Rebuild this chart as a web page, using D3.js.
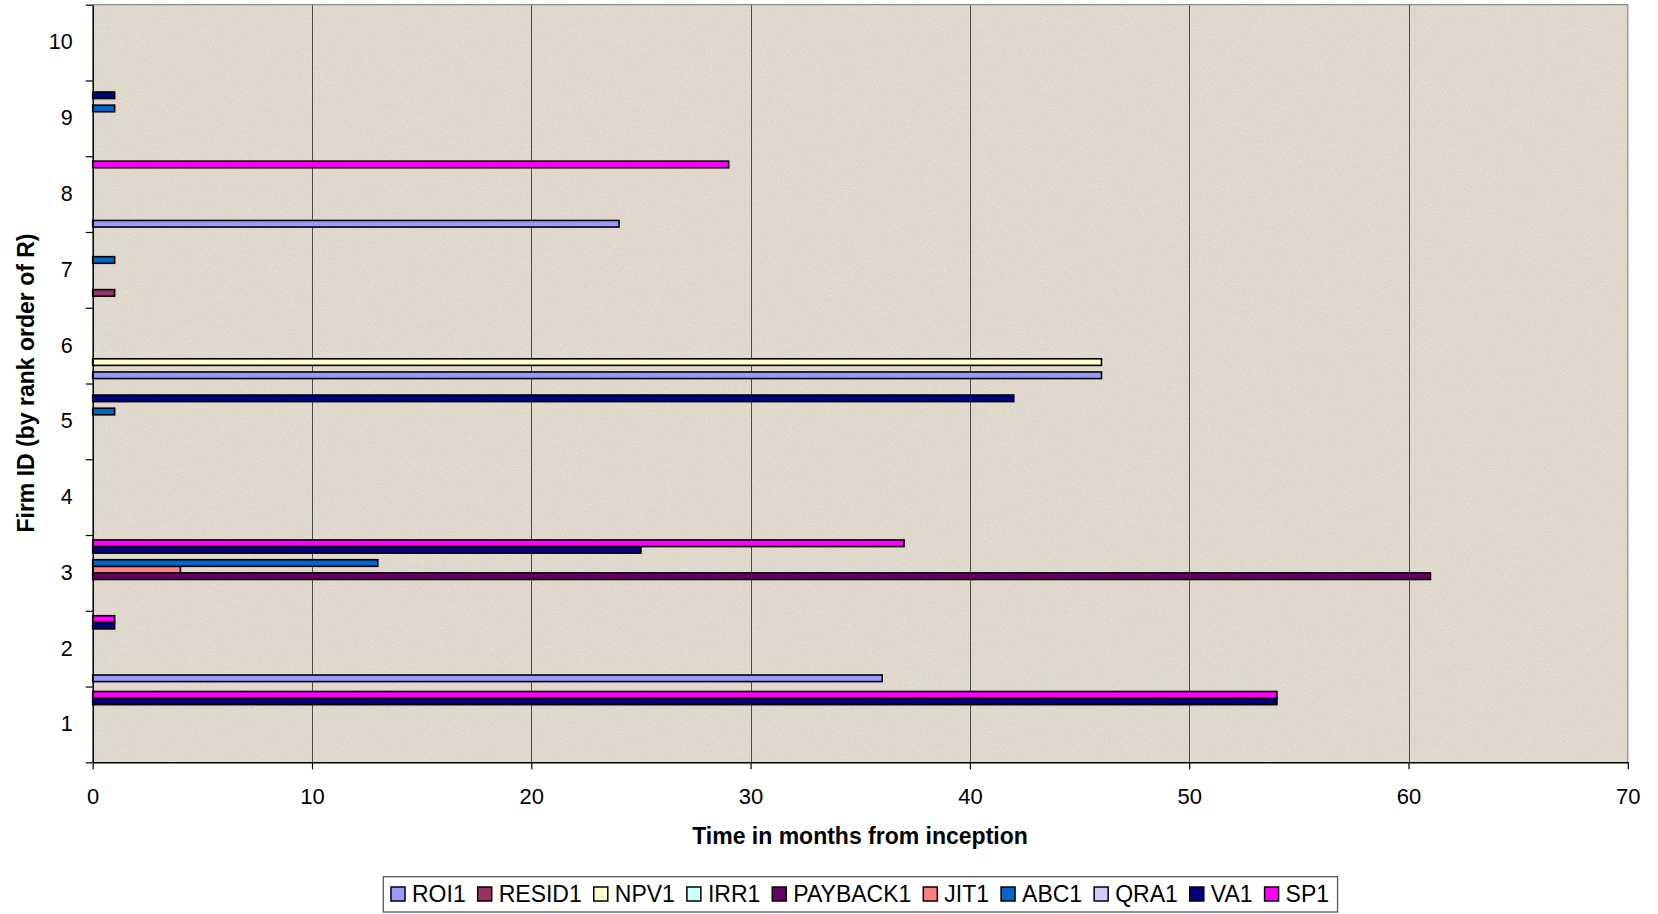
<!DOCTYPE html>
<html>
<head>
<meta charset="utf-8">
<script src="https://cdn.jsdelivr.net/npm/d3@7"></script>
<style>
  html, body { margin: 0; padding: 0; background: #ffffff; }
  svg { display: block; font-family: "Liberation Sans", Arial, sans-serif; }
</style>
</head>
<body>
<svg id="chart" width="1658" height="914"></svg>
<script>
// ---------- data ----------
const categories = ["1", "2", "3", "4", "5", "6", "7", "8", "9", "10"];
const seriesNames = ["ROI1", "RESID1", "NPV1", "IRR1", "PAYBACK1", "JIT1", "ABC1", "QRA1", "VA1", "SP1"];
const seriesColors = ["#9999FF", "#993366", "#FFFFCC", "#CCFFFF", "#660066", "#FF8080", "#0066CC", "#CCCCFF", "#000080", "#FF00FF"];

const ROI1     = [null, 36, null, null, null, 46, null, 24, null, null];
const RESID1   = [null, null, null, null, null, null, 1, null, null, null];
const NPV1     = [null, null, null, null, null, 46, null, null, null, null];
const IRR1     = [null, null, null, null, null, null, null, null, null, null];
const PAYBACK1 = [null, null, 61, null, null, null, null, null, null, null];
const JIT1     = [null, null, 4, null, null, null, null, null, null, null];
const ABC1     = [null, null, 13, null, 1, null, 1, null, 1, null];
const QRA1     = [null, null, null, null, null, null, null, null, null, null];
const VA1      = [54, 1, 25, null, 42, null, null, null, 1, null];
const SP1      = [54, 1, 37, null, null, null, null, 29, null, null];

const xTicks = [0, 10, 20, 30, 40, 50, 60, 70];
const xTitle = "Time in months from inception";
const yTitle = "Firm ID (by rank order of R)";

const seriesValues = [ROI1, RESID1, NPV1, IRR1, PAYBACK1, JIT1, ABC1, QRA1, VA1, SP1];

// ---------- layout ----------
const plot = { left: 92.7, top: 4.7, right: 1627.8, bottom: 762.3 };
const svg = d3.select("#chart");

const x = d3.scaleLinear().domain([0, 70]).range([plot.left, plot.right]);
const y = d3.scaleBand().domain(categories).range([plot.bottom, plot.top]).paddingInner(0).paddingOuter(0);
const yInner = d3.scaleBand().domain(seriesNames.slice().reverse()).range([0, y.bandwidth()])
  .paddingInner(0).paddingOuter(0.75);
const yLin = d3.scaleLinear().domain([0, categories.length]).range([plot.bottom, plot.top]);

// ---------- background texture ----------
const defs = svg.append("defs");
const f = defs.append("filter").attr("id", "paper")
  .attr("x", 0).attr("y", 0).attr("width", "100%").attr("height", "100%");
f.append("feTurbulence").attr("type", "fractalNoise").attr("baseFrequency", 0.7)
  .attr("numOctaves", 2).attr("seed", 7).attr("result", "noise");
f.append("feColorMatrix").attr("in", "noise").attr("type", "matrix")
  .attr("values", "0 0 0 0 0.60  0 0 0 0 0.52  0 0 0 0 0.45  3.2 0 0 0 -1.9")
  .attr("result", "dark");
f.append("feColorMatrix").attr("in", "noise").attr("type", "matrix")
  .attr("values", "0 0 0 0 0.97  0 0 0 0 0.95  0 0 0 0 0.92  -3.2 0 0 0 1.3")
  .attr("result", "light");
f.append("feMerge").call(m => {
  m.append("feMergeNode").attr("in", "light");
  m.append("feMergeNode").attr("in", "dark");
});

svg.append("rect")
  .attr("x", plot.left).attr("y", plot.top)
  .attr("width", plot.right - plot.left).attr("height", plot.bottom - plot.top)
  .attr("fill", "#E0D8CC");
svg.append("rect")
  .attr("x", plot.left).attr("y", plot.top)
  .attr("width", plot.right - plot.left).attr("height", plot.bottom - plot.top)
  .attr("fill", "#E0D8CC").attr("filter", "url(#paper)").attr("opacity", 0.5);

// ---------- gridlines ----------
svg.append("g").selectAll("line")
  .data(xTicks.filter(d => d > 0 && d < 70))
  .join("line")
  .attr("x1", d => Math.round(x(d)) + 0.5).attr("x2", d => Math.round(x(d)) + 0.5)
  .attr("y1", plot.top).attr("y2", plot.bottom)
  .attr("stroke", "#4a4a4a").attr("stroke-width", 1);

// plot border (top & right grey)
svg.append("path")
  .attr("d", `M${plot.left},${plot.top}H${plot.right}V${plot.bottom}`)
  .attr("fill", "none").attr("stroke", "#8a8a8a").attr("stroke-width", 1.2);

// ---------- bars ----------
const barData = [];
seriesNames.forEach((s, si) => {
  seriesValues[si].forEach((v, ci) => {
    if (v !== null && v !== undefined) barData.push({ s, si, cat: categories[ci], v });
  });
});
svg.append("g").selectAll("rect")
  .data(barData)
  .join("rect")
  .attr("x", x(0))
  .attr("y", d => y(d.cat) + yInner(d.s))
  .attr("width", d => x(d.v) - x(0))
  .attr("height", yInner.bandwidth())
  .attr("fill", d => seriesColors[d.si])
  .attr("stroke", "#000").attr("stroke-width", 1.6);

// ---------- axes ----------
const xAxis = svg.append("g")
  .attr("transform", `translate(0,${plot.bottom})`)
  .call(d3.axisBottom(x).tickValues(xTicks).tickFormat(d3.format("d")).tickSize(7).tickSizeOuter(0).tickPadding(19));
xAxis.select(".domain").attr("stroke", "#000").attr("stroke-width", 1.5);
xAxis.selectAll(".tick line").attr("stroke", "#000").attr("stroke-width", 1.2);
xAxis.selectAll("text").attr("font-size", 22).attr("fill", "#000")
  .attr("font-family", "'Liberation Sans', Arial, sans-serif");

// y boundary ticks
const yTickG = svg.append("g")
  .attr("transform", `translate(${plot.left},0)`)
  .call(d3.axisLeft(yLin).ticks(categories.length).tickFormat("").tickSize(7).tickSizeOuter(0));
yTickG.select(".domain").attr("stroke", "#000").attr("stroke-width", 1.5);
yTickG.selectAll(".tick line").attr("stroke", "#000").attr("stroke-width", 1.2);

// y category labels
const yLab = svg.append("g")
  .attr("transform", `translate(${plot.left},0)`)
  .call(d3.axisLeft(y).tickSize(0).tickPadding(20));
yLab.select(".domain").remove();
yLab.selectAll("text").attr("font-size", 21.5).attr("fill", "#000")
  .attr("font-family", "'Liberation Sans', Arial, sans-serif");

// ---------- titles ----------
svg.append("text")
  .attr("x", 860).attr("y", 844)
  .attr("text-anchor", "middle")
  .attr("font-size", 23).attr("font-weight", "bold")
  .text(xTitle);

svg.append("text")
  .attr("transform", "translate(34,383) rotate(-90)")
  .attr("text-anchor", "middle")
  .attr("font-size", 23).attr("font-weight", "bold")
  .text(yTitle);

// ---------- legend ----------
const legend = svg.append("g");
const legBox = legend.append("rect");
let lx = 391;
const sw = 14, swY = 887, baseY = 902;
seriesNames.forEach((s, i) => {
  legend.append("rect")
    .attr("x", lx).attr("y", swY).attr("width", sw).attr("height", sw)
    .attr("fill", seriesColors[i]).attr("stroke", "#000").attr("stroke-width", 1.5);
  const t = legend.append("text")
    .attr("x", lx + sw + 7).attr("y", baseY)
    .attr("font-size", 23).attr("fill", "#000")
    .text(s);
  const w = t.node().getComputedTextLength();
  lx = lx + sw + 7 + w + (i < seriesNames.length - 1 ? 12 : 0);
});
legBox.attr("x", 383.3).attr("y", 876.7)
  .attr("width", lx + 8.5 - 383.3).attr("height", 35.3)
  .attr("fill", "#fff").attr("stroke", "#555").attr("stroke-width", 1.3);
</script>
</body>
</html>
